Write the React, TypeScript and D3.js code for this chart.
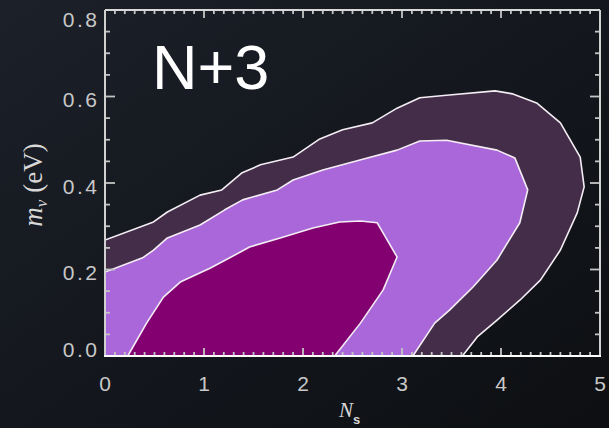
import React from "react";
import * as d3 from "d3";

const width = 609, height = 428;

// axis labels
const xTicks = [0, 1, 2, 3, 4, 5];
const yTicks = [0.0, 0.2, 0.4, 0.6, 0.8];

// outer contour (dark plum)
const outerNs = [0, 0.49, 0.63, 0.96, 1.18, 1.38, 1.57, 1.9, 2.17, 2.4, 2.7, 2.95, 3.18, 3.45, 3.94, 4.12, 4.36, 4.6, 4.8, 4.84, 4.77, 4.6, 4.4, 4.19, 3.96, 3.76, 3.61];
const outerM = [0.268, 0.31, 0.333, 0.372, 0.384, 0.423, 0.442, 0.46, 0.502, 0.523, 0.539, 0.573, 0.597, 0.603, 0.613, 0.606, 0.585, 0.539, 0.46, 0.391, 0.331, 0.245, 0.176, 0.129, 0.083, 0.044, 0];

// middle contour (lavender)
const midNs = [0, 0.38, 0.49, 0.63, 0.96, 1.21, 1.39, 1.74, 1.9, 2.2, 2.65, 2.95, 3.18, 3.45, 3.96, 4.14, 4.27, 4.19, 3.96, 3.72, 3.48, 3.33, 3.11];
const midM = [0.194, 0.227, 0.245, 0.273, 0.303, 0.338, 0.361, 0.384, 0.407, 0.43, 0.458, 0.476, 0.497, 0.499, 0.476, 0.458, 0.384, 0.308, 0.222, 0.16, 0.106, 0.076, 0];

// inner contour (magenta)
const innerNs = [0.23, 0.42, 0.59, 0.76, 1.06, 1.26, 1.46, 1.77, 2.1, 2.37, 2.58, 2.75, 2.95, 2.81, 2.58, 2.32];
const innerM = [0, 0.076, 0.136, 0.171, 0.203, 0.227, 0.252, 0.273, 0.296, 0.31, 0.312, 0.308, 0.229, 0.153, 0.076, 0];

const contours = [
  { ns: outerNs, m: outerM, fill: "#432d48" },
  { ns: midNs, m: midM, fill: "#a967d9" },
  { ns: innerNs, m: innerM, fill: "#830071" },
];

const x = d3.scaleLinear().domain([0, 5]).range([105, 600]);
const y = d3.scaleLinear().domain([0, 0.8]).range([356, 10]);

const line = d3.line<[number, number]>().x(d => x(d[0])).y(d => y(d[1]));

export default function App() {
  const minorX = d3.range(0, 50.5, 1).map(i => i / 10);
  const minorY = d3.range(0, 16.5, 1).map(i => i * 0.05);
  const tickCol = "#c4c4c4";
  const lblFont = "Liberation Sans";

  return (
    <svg width={width} height={height} style={{ position: "absolute", left: 0, top: 0 }}>
      <defs>
        <linearGradient id="bg" x1="0" y1="0" x2="1" y2="1">
          <stop offset="0%" stopColor="#1c2029" />
          <stop offset="55%" stopColor="#13161c" />
          <stop offset="100%" stopColor="#0d0f12" />
        </linearGradient>
        <clipPath id="plot">
          <rect x={x(0)} y={y(0.8)} width={x(5) - x(0)} height={y(0) - y(0.8)} />
        </clipPath>
      </defs>
      <rect width={width} height={height} fill="url(#bg)" />

      <g clipPath="url(#plot)">
        {contours.map((c, i) => {
          const pts = c.ns.map((v, j) => [v, c.m[j]] as [number, number]);
          return <path key={"f" + i} d={line(c.ns[0] === 0 ? [...pts, [0, 0]] : pts)! + "Z"} fill={c.fill} />;
        })}
        {contours.map((c, i) => {
          const pts = c.ns.map((v, j) => [v, c.m[j]] as [number, number]);
          return <path key={"l" + i} d={line(pts)!} fill="none" stroke="#f4eef4" strokeWidth={1.6} strokeLinejoin="round" />;
        })}
      </g>

      {/* ticks */}
      {minorX.map((t, i) => (
        <g key={"mx" + i} stroke={tickCol} strokeWidth={1.8}>
          <line x1={x(t)} x2={x(t)} y1={y(0)} y2={y(0) - (i % 10 === 0 ? 8 : 4)} />
          <line x1={x(t)} x2={x(t)} y1={y(0.8)} y2={y(0.8) + (i % 10 === 0 ? 8 : 4)} />
        </g>
      ))}
      {minorY.map((t, i) => (
        <g key={"my" + i} stroke={tickCol} strokeWidth={1.8}>
          <line x1={x(0)} x2={x(0) + (i % 4 === 0 ? 10 : 5)} y1={y(t)} y2={y(t)} />
          <line x1={x(5)} x2={x(5) - (i % 4 === 0 ? 10 : 5)} y1={y(t)} y2={y(t)} />
        </g>
      ))}

      {/* frame */}
      <line x1={x(0)} x2={x(5)} y1={y(0.8)} y2={y(0.8)} stroke="#d8d8d8" strokeWidth={2} />
      <line x1={x(0)} x2={x(0)} y1={y(0.8)} y2={y(0)} stroke="#d0d0d0" strokeWidth={2} />
      <line x1={x(5)} x2={x(5)} y1={y(0.8)} y2={y(0)} stroke="#d0d0d0" strokeWidth={2} />
      <line x1={x(0) - 1} x2={x(5) + 1} y1={y(0)} y2={y(0)} stroke="#ffffff" strokeWidth={2.2} />

      {/* tick labels */}
      {xTicks.map(t => (
        <text key={"xt" + t} x={x(t)} y={391} textAnchor="middle" fill="#c8c8c8"
          fontFamily={lblFont} fontSize={21}>{t}</text>
      ))}
      {yTicks.map(t => (
        <text key={"yt" + t} x={99.5} y={Math.min(Math.max(y(t) + 10.5, 27), 357)} textAnchor="end" fill="#c8c8c8"
          fontFamily={lblFont} fontSize={21} letterSpacing={2.5}>{t.toFixed(1)}</text>
      ))}

      {/* panel label */}
      <text x={152} y={89} fill="#ffffff" fontFamily="Liberation Sans" fontSize={63}>N+3</text>

      {/* axis titles */}
      <text x={339} y={417} fill="#d8d8d8" fontFamily="Liberation Serif" fontSize={21}>
        <tspan fontStyle="italic">N</tspan>
        <tspan dy={7} fontSize={13} fontWeight="bold" fontFamily="Liberation Sans">s</tspan>
      </text>
      <text transform="rotate(-90)" x={-185} y={42} textAnchor="middle" fill="#d8d8d8"
        fontFamily="Liberation Serif" fontSize={27}>
        <tspan fontStyle="italic">m</tspan>
        <tspan dy={5} fontSize={17} fontStyle="italic">ν</tspan>
        <tspan dy={-5}> (eV)</tspan>
      </text>
    </svg>
  );
}
